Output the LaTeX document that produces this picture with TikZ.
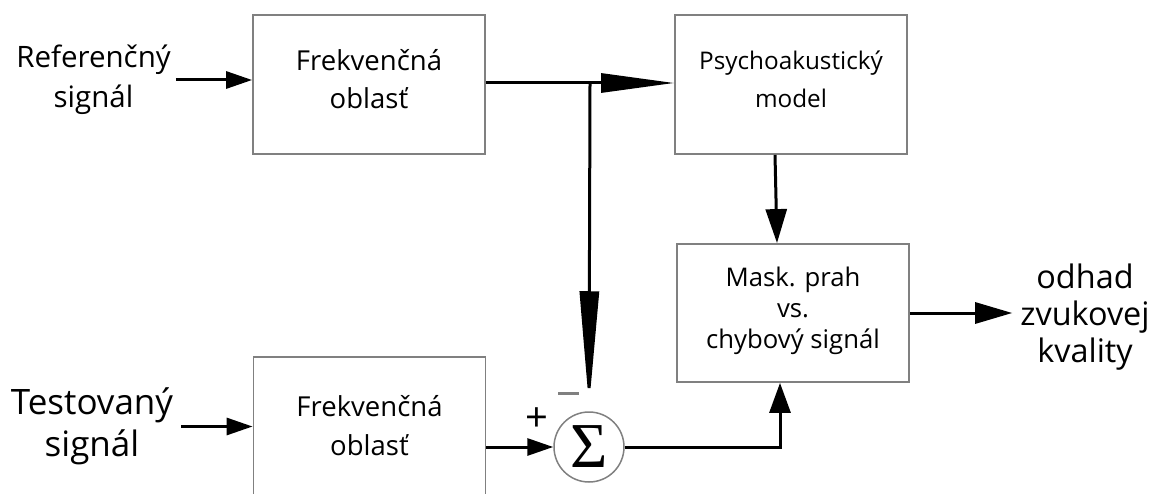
\documentclass[tikz,border=0pt]{standalone}
\usepackage{fontspec}
\setmainfont{Open Sans}
\newfontfamily\sigmafont{Liberation Serif}
\usetikzlibrary{arrows.meta,positioning}

\begin{document}
\begin{tikzpicture}[x=1pt,y=-1pt,
  blok/.style={draw=black!50,line width=1.8pt,minimum width=232pt,minimum height=139pt,inner sep=0pt},
  popis/.style={align=center,inner sep=0pt},
  spoj/.style={line width=3pt},
  sipka/.style={spoj,-{Triangle[length=26pt,width=17pt]}},
  velka/.style={spoj,-{Triangle[length=73pt,width=19pt]}}]
\clip (0,0) rectangle (1155,494);
% bloky
\node[blok] (f1) at (369,84.5) {};
\node[blok] (f2) at (369.5,426.5) {};
\node[blok] (psy) at (791,84.5) {};
\node[blok,minimum height=138pt] (mask) at (793,313) {};
\node[draw=black!50,line width=1.5pt,circle,minimum size=70pt,inner sep=0pt] (sum) at (589,447) {\sigmafont\fontsize{64}{64}\selectfont Σ};
% texty v blokoch
\node[popis,font=\fontsize{27.5}{38}\selectfont] (f1t) at ([yshift=5pt]f1.center) {Frekvenčná\\oblasť};
\node[popis,font=\fontsize{27.5}{39}\selectfont] (f2t) at ([yshift=1pt]f2.center) {Frekvenčná\\oblasť};
\node[popis,font=\fontsize{24.3}{38}\selectfont] (psyt) at ([yshift=5pt]psy.center) {Psychoakustický\\model};
\node[popis,font=\fontsize{25.7}{31}\selectfont] (maskt) at ([yshift=2pt]mask.center) {Mask. prah\\vs.\\chybový signál};
% popisy
\node[popis,font=\fontsize{29.5}{40}\selectfont] (ref) at (93.5,80) {Referenčný\\signál};
\node[popis,font=\fontsize{35}{42}\selectfont] (test) at (92,426) {Testovaný\\signál};
\node[popis,font=\fontsize{32.4}{37}\selectfont] (out) at (1085,317) {odhad\\zvukovej\\kvality};
\node[font=\fontsize{40}{40}\selectfont] (plus) at (537,420) {+};
\node[text=black!50,inner sep=0pt] (minus) at (568.5,393) {\rule{21pt}{3pt}};
% spoje
\coordinate (uzol) at (590,83);
\draw[sipka] ([xshift=5pt]ref.east) -- (ref.east -| f1.west);
\draw[sipka] ([xshift=8pt]test.east |- f2.west) -- (f2.west);
\draw[velka] (f1.east |- uzol) -- (uzol -| psy.west);
\draw[spoj,-{Triangle[length=115pt,width=19pt]},shorten >=5pt] (uzol) -- (sum.north);
\draw[sipka,-{Triangle[length=34pt,width=21pt]}] ([xshift=-16pt]psy.south) -- ([xshift=-16pt]mask.north);
\draw[sipka] (f2.east |- sum.west) -- (sum.west);
\draw[sipka,-{Triangle[length=30pt,width=21pt]}] (sum.east) -| ([xshift=-13pt]mask.south);
\draw[sipka,-{Triangle[length=37pt,width=21pt]},shorten >=8pt] (mask.east) -- (mask.east -| out.west);
\end{tikzpicture}
\end{document}
